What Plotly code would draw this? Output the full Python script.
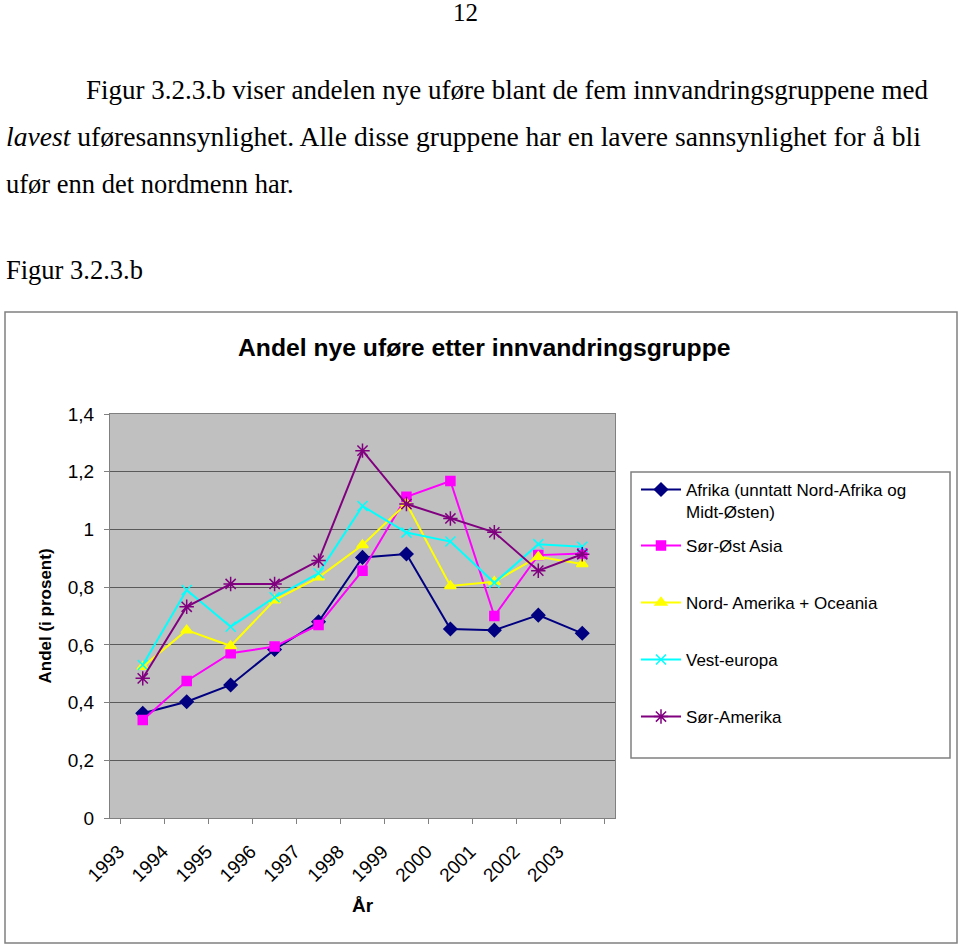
import plotly.graph_objects as go

W, H = 960, 946

years = ["1993", "1994", "1995", "1996", "1997", "1998", "1999", "2000", "2001", "2002", "2003"]

afrika = [0.363, 0.403, 0.461, 0.584, 0.680, 0.903, 0.915, 0.655, 0.651, 0.703, 0.640]
sor_ost_asia = [0.340, 0.475, 0.571, 0.594, 0.669, 0.857, 1.113, 1.168, 0.700, 0.911, 0.917]
nord_amerika = [0.524, 0.651, 0.596, 0.755, 0.834, 0.946, 1.090, 0.804, 0.819, 0.905, 0.880]
vest_europa = [0.530, 0.790, 0.663, 0.765, 0.848, 1.081, 0.989, 0.958, 0.815, 0.949, 0.940]
sor_amerika = [0.484, 0.732, 0.811, 0.811, 0.892, 1.273, 1.088, 1.038, 0.990, 0.857, 0.914]

series_names = [
    "Afrika (unntatt Nord-Afrika og<br>Midt-Østen)",
    "Sør-Øst Asia",
    "Nord- Amerika + Oceania",
    "Vest-europa",
    "Sør-Amerika",
]
series_values = [afrika, sor_ost_asia, nord_amerika, vest_europa, sor_amerika]
series_colors = ["#000080", "#FF00FF", "#FFFF00", "#00FFFF", "#800080"]
series_symbols = ["diamond", "square", "triangle-up", "x-thin", "asterisk"]
series_sizes = [10, 9, 10, 10, 12]

y_ticks = [0, 0.2, 0.4, 0.6, 0.8, 1.0, 1.2, 1.4]


def px(x):
    return x / W


def py(y):
    return 1 - y / H


# plot area in pixels
PL, PR, PT, PB = 110, 615, 414, 818

legend_centers = [490, 546, 603, 660, 717]

fig = go.Figure()
for i, (name, vals, col, sym, sz) in enumerate(
    zip(series_names, series_values, series_colors, series_symbols, series_sizes)
):
    lg = "legend" if i == 0 else f"legend{i+1}"
    fig.add_trace(
        go.Scatter(
            x=years,
            y=vals,
            name=name,
            mode="lines+markers",
            line=dict(color=col, width=2),
            marker=dict(symbol=sym, size=sz, color=col, line=dict(color=col, width=1.5)),
            legend=lg,
        )
    )

legend_common = dict(
    font=dict(family="Liberation Sans, Arial", size=17, color="black"),
    bgcolor="rgba(0,0,0,0)",
    borderwidth=0,
    itemwidth=40,
    xanchor="left",
    x=px(636),
    valign="top",
)

layout_legends = {}
for i, yc in enumerate(legend_centers):
    key = "legend" if i == 0 else f"legend{i+1}"
    if i == 0:
        layout_legends[key] = dict(legend_common, yanchor="top", y=py(yc - 18))
    else:
        layout_legends[key] = dict(legend_common, yanchor="middle", y=py(yc))

fig.update_layout(
    width=W,
    height=H,
    margin=dict(l=0, r=0, t=0, b=0, pad=0, autoexpand=False),
    paper_bgcolor="white",
    plot_bgcolor="#C0C0C0",
    separators=", ",
    showlegend=True,
    **layout_legends,
    xaxis=dict(
        domain=[px(PL), px(PR)],
        type="category",
        automargin=False,
        tickson="boundaries",
        ticks="outside",
        ticklen=5,
        tickcolor="#808080",
        showgrid=False,
        showline=True,
        linecolor="#808080",
        linewidth=1,
        mirror=True,
        tickangle=-45,
        tickfont=dict(family="Liberation Sans, Arial", size=19, color="black"),
        ticklabelshift=-24,
        ticklabelstandoff=14,
        title=dict(
            text="<b>År</b>",
            font=dict(family="Liberation Sans, Arial", size=19, color="black"),
            standoff=13,
        ),
        fixedrange=True,
    ),
    yaxis=dict(
        domain=[py(PB), py(PT)],
        range=[0, 1.4],
        automargin=False,
        tickvals=y_ticks,
        ticks="outside",
        ticklen=5,
        tickcolor="#808080",
        showgrid=True,
        gridcolor="#5a5a5a",
        gridwidth=1,
        showline=True,
        linecolor="#808080",
        linewidth=1,
        mirror=True,
        zeroline=False,
        tickfont=dict(family="Liberation Sans, Arial", size=19, color="black"),
        ticklabelstandoff=6,
        title=dict(
            text="<b>Andel (i prosent)</b>",
            font=dict(family="Liberation Sans, Arial", size=17, color="black"),
            standoff=11,
        ),
        fixedrange=True,
    ),
)

# Outer chart border and legend box
fig.add_shape(type="rect", xref="paper", yref="paper",
              x0=px(5), x1=px(957), y0=py(943), y1=py(312),
              line=dict(color="#808080", width=1.5), layer="below")
fig.add_shape(type="rect", xref="paper", yref="paper",
              x0=px(631), x1=px(950), y0=py(758), y1=py(472),
              line=dict(color="#808080", width=1.5), layer="below")

serif = "Liberation Serif, Times New Roman"
texts = [
    ("12", 465, 12, "center", 25),
    ("Figur 3.2.3.b viser andelen nye uføre blant de fem innvandringsgruppene med", 84, 90, "left", 27),
    ("<i>lavest</i> uføresannsynlighet. Alle disse gruppene har en lavere sannsynlighet for å bli", 4, 137, "left", 27.6),
    ("ufør enn det nordmenn har.", 4, 184, "left", 26.5),
    ("Figur 3.2.3.b", 4, 270, "left", 26.5),
]
for t, x, y, anc, sz in texts:
    fig.add_annotation(text=t, xref="paper", yref="paper", x=px(x), y=py(y),
                       xanchor=anc, yanchor="middle", showarrow=False,
                       font=dict(family=serif, size=sz, color="black"))

fig.add_annotation(text="<b>Andel nye uføre etter innvandringsgruppe</b>",
                   xref="paper", yref="paper", x=px(484), y=py(348),
                   xanchor="center", yanchor="middle", showarrow=False,
                   font=dict(family="Liberation Sans, Arial", size=24.7, color="black"))

fig.write_html("out.html")
